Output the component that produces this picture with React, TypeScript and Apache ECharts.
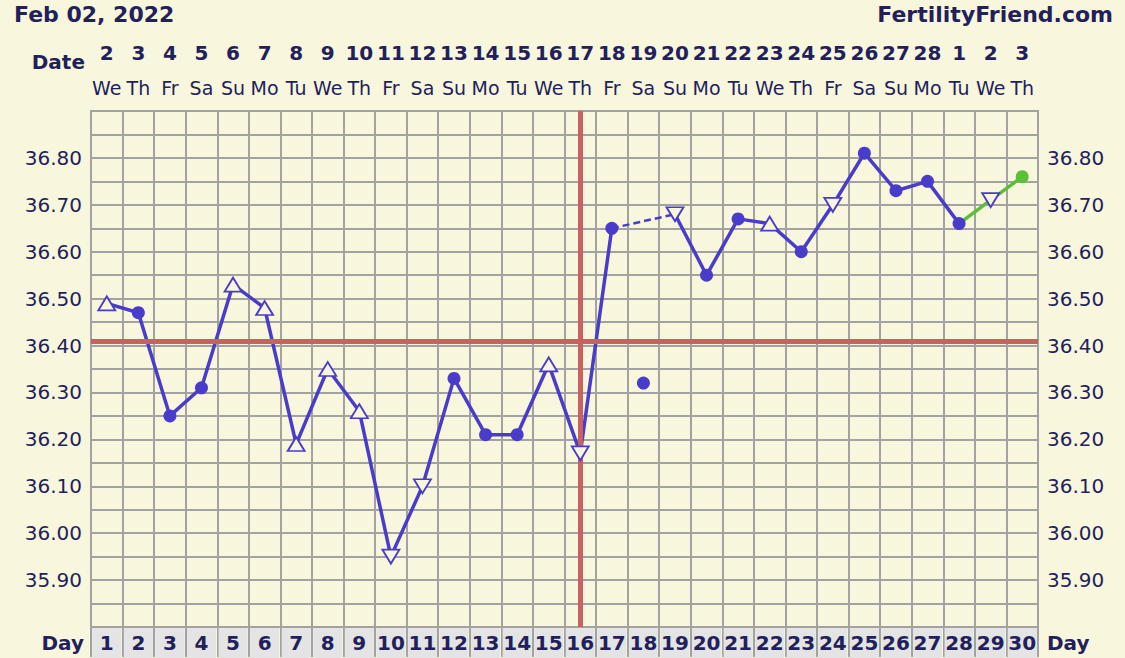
import React, { useEffect, useRef } from "react";
import * as echarts from "echarts";

// ---------- data ----------
const cycleDays = ["1","2","3","4","5","6","7","8","9","10","11","12","13","14","15","16","17","18","19","20","21","22","23","24","25","26","27","28","29","30"];
const dates = ["2","3","4","5","6","7","8","9","10","11","12","13","14","15","16","17","18","19","20","21","22","23","24","25","26","27","28","1","2","3"];
const weekdays = ["We","Th","Fr","Sa","Su","Mo","Tu","We","Th","Fr","Sa","Su","Mo","Tu","We","Th","Fr","Sa","Su","Mo","Tu","We","Th","Fr","Sa","Su","Mo","Tu","We","Th"];
const temps = [36.49, 36.47, 36.25, 36.31, 36.53, 36.48, 36.19, 36.35, 36.26, 35.95, 36.10, 36.33, 36.21, 36.21, 36.36, 36.17, 36.65, 36.32, 36.68, 36.55, 36.67, 36.66, 36.60, 36.70, 36.81, 36.73, 36.75, 36.66, 36.71, 36.76];
const markers = ["up","dot","dot","dot","up","up","up","up","up","down","down","dot","dot","dot","up","down","dot","dot","down","dot","dot","up","dot","down","dot","dot","dot","dot","down","dot"];
const solidSegments = [[1, 17], [19, 28]];
const dashedSegment = [17, 19];
const greenSegment = [28, 30];
const coverline = 36.41;
const ovulationDay = 16;
const yMin = 35.8;
const yMax = 36.9;
const yStep = 0.05;

// ---------- styles ----------
const BG = "#f8f6dc";
const TEXT = "#221f5c";
const GRID = "#a2a2a2";
const BLUE = "#4a3cca";
const GREEN = "#5cbf38";
const RED = "#c8615f";
const DAYBG = "#e4e4e4";
const FONT = "'DejaVu Sans', Verdana, sans-serif";

const inRange = (d: number, r: number[]) => d >= r[0] && d <= r[1];

export default function App() {
  const ref = useRef<HTMLDivElement>(null);
  useEffect(() => {
    if (!ref.current) return;
    const chart = echarts.init(ref.current, undefined, { renderer: "svg" });

    const solidData = temps.map((t, i) => (solidSegments.some((s) => inRange(i + 1, s)) ? t : null));
    const dashedData = temps.map((t, i) => (i + 1 === dashedSegment[0] || i + 1 === dashedSegment[1] ? t : null));
    const greenData = temps.map((t, i) => (inRange(i + 1, greenSegment) ? t : null));

    const markerData = temps.map((t, i) => {
      const m = markers[i];
      const day = i + 1;
      if (m === "dot") {
        const c = day > greenSegment[0] ? GREEN : BLUE;
        return { value: [i, t], symbol: "circle", symbolSize: 13, itemStyle: { color: c, borderWidth: 0, opacity: 1 } };
      }
      return {
        value: [i, t],
        symbol: "triangle",
        symbolSize: [17, 14],
        symbolRotate: m === "down" ? 180 : 0,
        itemStyle: { color: BG, borderColor: BLUE, borderWidth: 1.8, opacity: 1 },
      };
    });

    const yLabel = (v: number) => {
      const c = Math.round(v * 100);
      if (c % 10 !== 0 || c <= Math.round(yMin * 100) || c >= Math.round(yMax * 100)) return "";
      return (c / 100).toFixed(2);
    };

    const yAxisBase = {
      type: "value",
      min: yMin,
      max: yMax,
      interval: yStep,
      axisLine: { show: false },
      axisTick: { show: false },
    };

    const option: any = {
      animation: false,
      backgroundColor: BG,
      textStyle: { fontFamily: FONT },
      grid: { left: 91, right: 87, top: 111, bottom: 30, show: true, borderColor: GRID, borderWidth: 2, backgroundColor: "transparent" },
      graphic: [
        { type: "text", left: 14, top: 3, style: { text: "Feb 02, 2022", font: `bold 22px ${FONT}`, fill: TEXT } },
        { type: "text", right: 12, top: 3, style: { text: "FertilityFriend.com", font: `bold 22px ${FONT}`, fill: TEXT } },
        { type: "text", x: 85, y: 62, style: { text: "Date", font: `bold 20px ${FONT}`, fill: TEXT, textAlign: "right", textVerticalAlign: "middle" } },
        { type: "text", x: 84, y: 643, style: { text: "Day", font: `bold 20px ${FONT}`, fill: TEXT, textAlign: "right", textVerticalAlign: "middle" } },
        { type: "text", x: 1047, y: 643, style: { text: "Day", font: `bold 20px ${FONT}`, fill: TEXT, textAlign: "left", textVerticalAlign: "middle" } },
      ],
      xAxis: [
        {
          type: "category",
          data: cycleDays,
          position: "bottom",
          boundaryGap: true,
          axisLine: { show: true, lineStyle: { color: GRID, width: 2 } },
          axisTick: { show: true, alignWithLabel: false, interval: 0, length: 30, lineStyle: { color: GRID, width: 2 } },
          axisLabel: {
            interval: 0,
            margin: 1,
            color: TEXT,
            fontWeight: "bold",
            fontSize: 20,
            fontFamily: FONT,
            backgroundColor: DAYBG,
            width: 29,
            height: 30,
            lineHeight: 30,
            align: "center",
            verticalAlign: "top",
          },
          splitLine: { show: true, interval: 0, lineStyle: { color: GRID, width: 2 } },
        },
        {
          type: "category",
          data: dates,
          position: "top",
          boundaryGap: true,
          axisLine: { show: false },
          axisTick: { show: false },
          splitLine: { show: false },
          axisLabel: {
            interval: 0,
            margin: 6,
            formatter: (v: string, i: number) => `{d|${v}}\n{w|${weekdays[i]}}`,
            rich: {
              d: { fontWeight: "bold", fontSize: 20, lineHeight: 35, color: TEXT, fontFamily: FONT },
              w: { fontSize: 19, lineHeight: 35, color: TEXT, fontFamily: FONT },
            },
          },
        },
      ],
      yAxis: [
        {
          ...yAxisBase,
          position: "left",
          axisLabel: { formatter: yLabel, color: TEXT, fontSize: 20, fontFamily: FONT, margin: 9 },
          splitLine: { show: true, lineStyle: { color: GRID, width: 2 } },
        },
        {
          ...yAxisBase,
          position: "right",
          axisLabel: { formatter: yLabel, color: TEXT, fontSize: 20, fontFamily: FONT, margin: 9 },
          splitLine: { show: false },
        },
      ],
      series: [
        {
          type: "line",
          data: [],
          z: 1,
          markLine: {
            silent: true,
            symbol: "none",
            label: { show: false },
            lineStyle: { color: RED, width: 5, type: "solid", opacity: 1 },
            data: [{ yAxis: coverline }, { xAxis: ovulationDay - 1 }],
          },
        },
        {
          type: "line",
          data: solidData,
          symbol: "none",
          connectNulls: false,
          lineStyle: { color: BLUE, width: 3.5 },
          z: 3,
        },
        {
          type: "line",
          data: dashedData,
          symbol: "none",
          connectNulls: true,
          lineStyle: { color: BLUE, width: 2.5, type: [7, 4] },
          z: 3,
        },
        {
          type: "line",
          data: greenData,
          symbol: "none",
          connectNulls: false,
          lineStyle: { color: GREEN, width: 3.5 },
          z: 3,
        },
        {
          type: "scatter",
          data: markerData,
          itemStyle: { opacity: 1 },
          z: 5,
        },
      ],
    };
    chart.setOption(option);
    return () => chart.dispose();
  }, []);

  return <div ref={ref} style={{ position: "absolute", left: 0, top: 0, width: 1125, height: 658 }} />;
}
